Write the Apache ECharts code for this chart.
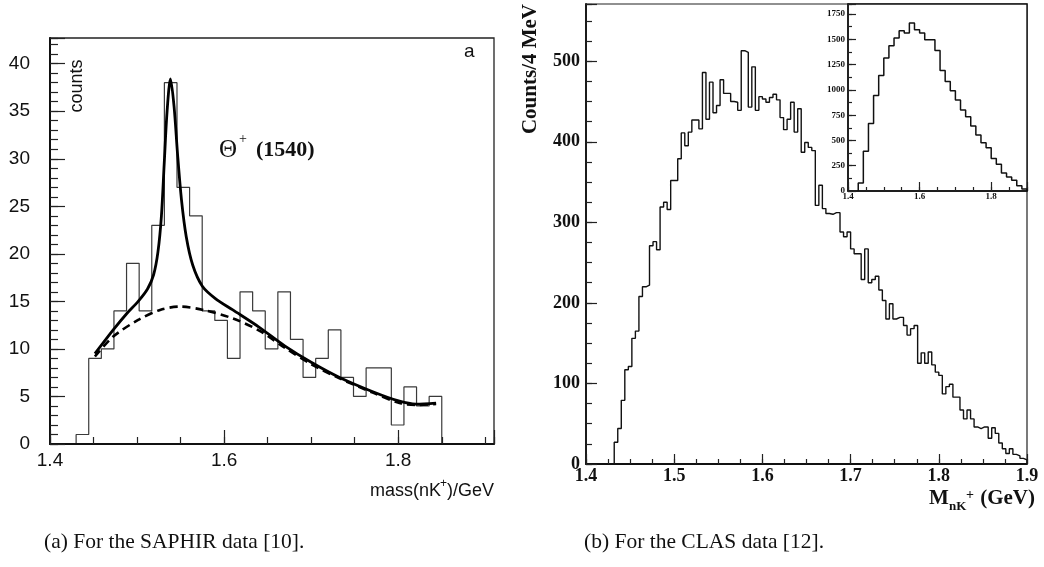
<!DOCTYPE html>
<html><head><meta charset="utf-8">
<script src="https://cdn.jsdelivr.net/npm/echarts@6/dist/echarts.min.js"></script>
<style>html,body{margin:0;padding:0;background:#fff}#c{width:1044px;height:567px}</style>
</head><body><div id="c"></div>
<script>
// ---------- (a) SAPHIR ----------
const sapBinStart = 1.43;
const sapBinEnd = 1.85;
const sapCounts = [1,9,10,14,19,14,23,38,27,24,14,13,9,16,14,10,16,11,7,9,12,7,5,8,8,2,6,4,5];
const sapFitX = [1.4516,1.4726,1.4880,1.5013,1.5120,1.5190,1.5240,1.5280,1.5312,1.5345,1.5384,1.5425,1.5465,1.5510,1.5565,1.5640,1.5750,1.5900,1.6100,1.6400,1.6700,1.7000,1.7326,1.7708,1.8014,1.8205,1.8435];
const sapFitY = [9.5,12.0,13.7,15.0,16.3,17.8,20.2,24.0,29.5,35.0,38.4,35.5,30.5,25.7,21.8,18.8,16.6,15.3,14.1,12.3,10.3,8.6,7.0,5.5,4.5,4.2,4.3];
const sapBgX = [1.4516,1.4726,1.5013,1.5264,1.5493,1.5761,1.6102,1.6408,1.6700,1.7000,1.7326,1.7708,1.8014,1.8205,1.8435];
const sapBgY = [9.2,11.3,13.05,14.1,14.45,14.1,13.2,11.9,10.1,8.4,6.9,5.4,4.3,4.1,4.2];
const sapXTickLabels = ['1.4','1.6','1.8'];
const sapYTickLabels = ['0','5','10','15','20','25','30','35','40'];

// ---------- (b) CLAS ----------
const clasBinStart = 1.4;
const clasBinWidth = 0.004;
const clasCounts = [0,0,0,0,0,0,0,0,
 27,44,79,117,121,156,165,208,220,222,
 271,276,266,319,325,316,352,352,379,411,
 395,412,427,427,416,486,428,474,436,445,
 477,460,460,450,449,439,513,511,443,493,
 439,456,453,449,455,459,452,430,415,428,
 449,412,441,387,399,393,389,321,346,317,
 311,310,312,312,288,282,288,267,261,261,
 229,267,225,229,233,216,203,180,199,180,
 182,182,172,160,168,172,125,138,125,139,
 123,114,110,87,96,99,83,83,67,56,
 67,56,46,44,46,46,32,45,38,26,
 19,13,19,12,10,7,5];
const clasXTickLabels = ['1.4','1.5','1.6','1.7','1.8','1.9'];
const clasYTickLabels = ['0','100','200','300','400','500'];

// ---------- (b) inset ----------
const insetBinStart = 1.4;
const insetBinEnd = 1.9;
const insetCounts = [0,0,79,394,669,944,1142,1315,1437,1513,1586,1563,1662,1596,1563,1497,1497,1391,1192,1083,993,901,801,735,642,553,477,427,321,265,179,139,106,53,20];
const insetXTickLabels = ['1.4','1.6','1.8'];
const insetYTickLabels = ['0','250','500','750','1000','1250','1500','1750'];

// ---------- helpers ----------
function stepPoints(start, width, counts) {
  const pts = [];
  let first = counts.findIndex(v => v > 0);
  let last = counts.length - 1;
  while (last > 0 && counts[last] === 0) last--;
  pts.push([start + first * width, 0]);
  for (let i = first; i <= last; i++) {
    pts.push([start + i * width, counts[i]]);
    pts.push([start + (i + 1) * width, counts[i]]);
  }
  pts.push([start + (last + 1) * width, 0]);
  return pts;
}
const zip = (a, b) => a.map((v, i) => [v, b[i]]);
function labelFmt(list, dec) {
  return v => { const s = dec ? v.toFixed(dec) : String(Math.round(v));
    return (list.includes(s) && Math.abs(parseFloat(s) - v) < 1e-6) ? s : ''; };
}
function axis(o) {
  return {
    type: 'value', gridIndex: o.grid, position: o.pos, min: o.min, max: o.max, interval: o.interval,
    axisLine: { show: !!o.line, onZero: false, lineStyle: { color: '#111', width: o.lw || 1.8 } },
    axisTick: { show: true, inside: true, length: o.tick, lineStyle: { color: '#222', width: o.tw || 1.2 } },
    axisLabel: o.labels ? Object.assign({ show: true, formatter: labelFmt(o.labels, o.dec), color: '#111',
      showMaxLabel: true, showMinLabel: true, hideOverlap: false }, o.label) : { show: false },
    splitLine: { show: false }, minorTick: { show: false }, z: 5
  };
}
const sansLbl = { fontFamily: 'Liberation Sans, Arial, sans-serif', fontSize: 19 };
const serifB = (s) => ({ fontFamily: 'Liberation Serif, Times New Roman, serif', fontWeight: 'bold', fontSize: s });

const xAxes = [
  axis({grid:0,pos:'bottom',min:1.4,max:1.91,interval:0.05,line:true,lw:2,tick:7}),
  axis({grid:0,pos:'bottom',min:1.4,max:1.91,interval:0.2,tick:14,labels:sapXTickLabels,dec:1,label:Object.assign({margin:7},sansLbl)}),
  axis({grid:1,pos:'bottom',min:1.4,max:1.9,interval:0.025,line:true,lw:1.8,tick:5}),
  axis({grid:1,pos:'bottom',min:1.4,max:1.9,interval:0.1,tick:10,labels:clasXTickLabels,dec:1,label:Object.assign({margin:3},serifB(18))}),
  axis({grid:2,pos:'bottom',min:1.4,max:1.9,interval:0.05,line:true,lw:1.5,tick:4}),
  axis({grid:2,pos:'bottom',min:1.4,max:1.9,interval:0.2,tick:9,labels:insetXTickLabels,dec:1,label:Object.assign({margin:1},serifB(9))})
];
const yAxes = [
  axis({grid:0,pos:'left',min:0,max:42.7,interval:1,line:true,lw:2,tick:8}),
  axis({grid:0,pos:'left',min:0,max:42.7,interval:5,tick:15,labels:sapYTickLabels,label:Object.assign({margin:20},sansLbl)}),
  axis({grid:1,pos:'left',min:0,max:571,interval:25,line:true,lw:1.8,tick:6}),
  axis({grid:1,pos:'left',min:0,max:571,interval:100,tick:11,labels:clasYTickLabels,label:Object.assign({margin:6},serifB(18))}),
  axis({grid:2,pos:'left',min:0,max:1850,interval:125,line:true,lw:1.5,tick:4}),
  axis({grid:2,pos:'left',min:0,max:1850,interval:250,tick:8,labels:insetYTickLabels,label:Object.assign({margin:3},serifB(9))})
];

function txt(text, x, y, font, extra) {
  return Object.assign({ type: 'text', x: x, y: y, z: 50,
    style: Object.assign({ text: text, fill: '#111', align: 'left', verticalAlign: 'middle' }, font) }, extra || {});
}
const sansF = s => ({ fontFamily: 'Liberation Sans, Arial, sans-serif', fontSize: s });
const serifF = s => ({ fontFamily: 'Liberation Serif, Times New Roman, serif', fontSize: s });

const option = {
  animation: false,
  backgroundColor: '#fff',
  grid: [
    { left: 50, top: 38, width: 444, height: 406, show: true, borderColor: '#222', borderWidth: 1.3, backgroundColor: 'transparent' },
    { left: 586, top: 4, width: 441, height: 460, show: true, borderColor: '#222', borderWidth: 1.2, backgroundColor: 'transparent' },
    { left: 848, top: 4, width: 179, height: 187, show: true, borderColor: '#111', borderWidth: 1.4, backgroundColor: '#fff' }
  ],
  xAxis: xAxes,
  yAxis: yAxes,
  series: [
    { type: 'line', xAxisIndex: 0, yAxisIndex: 0, symbol: 'none', data: stepPoints(sapBinStart, (sapBinEnd - sapBinStart) / sapCounts.length, sapCounts),
      lineStyle: { color: '#3a3a3a', width: 1.2 }, z: 3 },
    { type: 'line', xAxisIndex: 0, yAxisIndex: 0, symbol: 'none', smooth: 0.3, data: zip(sapBgX, sapBgY),
      lineStyle: { color: '#000', width: 2.6, type: [8, 5] }, z: 4 },
    { type: 'line', xAxisIndex: 0, yAxisIndex: 0, symbol: 'none', smooth: 0.3, data: zip(sapFitX, sapFitY),
      lineStyle: { color: '#000', width: 2.8 }, z: 4 },
    { type: 'line', xAxisIndex: 2, yAxisIndex: 2, symbol: 'none', data: stepPoints(clasBinStart, clasBinWidth, clasCounts),
      lineStyle: { color: '#111', width: 1.4 }, z: 3 },
    { type: 'line', xAxisIndex: 4, yAxisIndex: 4, symbol: 'none', data: stepPoints(insetBinStart, (insetBinEnd - insetBinStart) / insetCounts.length, insetCounts),
      lineStyle: { color: '#111', width: 1.5 }, z: 6 }
  ],
  graphic: [
    txt('counts', 77, 86, sansF(18), { rotation: Math.PI / 2, style: { text: 'counts', fill: '#111', align: 'center', verticalAlign: 'middle', fontFamily: 'Liberation Sans, Arial, sans-serif', fontSize: 18 } }),
    txt('a', 464, 52, sansF(19)),
    txt('Θ', 219, 150, serifF(25)),
    txt('+', 239, 139, serifF(14)),
    txt('(1540)', 256, 150, Object.assign(serifF(22), { fontWeight: 'bold' })),
    txt('mass(nK', 370, 491, sansF(18)),
    txt('+', 440, 484, sansF(12)),
    txt(')/GeV', 447, 491, sansF(18)),
    txt('Counts/4 MeV', 531, 69, {}, { rotation: Math.PI / 2, style: { text: 'Counts/4 MeV', fill: '#111', align: 'center', verticalAlign: 'middle', fontFamily: 'Liberation Serif, Times New Roman, serif', fontWeight: 'bold', fontSize: 21 } }),
    txt('M', 929, 499, Object.assign(serifF(21), { fontWeight: 'bold' })),
    txt('nK', 949, 507, Object.assign(serifF(13), { fontWeight: 'bold' })),
    txt('+', 966, 495, Object.assign(serifF(14), { fontWeight: 'bold' })),
    txt('(GeV)', 1035, 499, Object.assign(serifF(21), { fontWeight: 'bold', align: 'right' })),
    txt('(a) For the SAPHIR data [10].', 44, 542, serifF(21.5)),
    txt('(b) For the CLAS data [12].', 584, 542, serifF(21.5))
  ]
};
const chart = echarts.init(document.getElementById('c'), null, { renderer: 'canvas' });
chart.setOption(option);
</script></body></html>
